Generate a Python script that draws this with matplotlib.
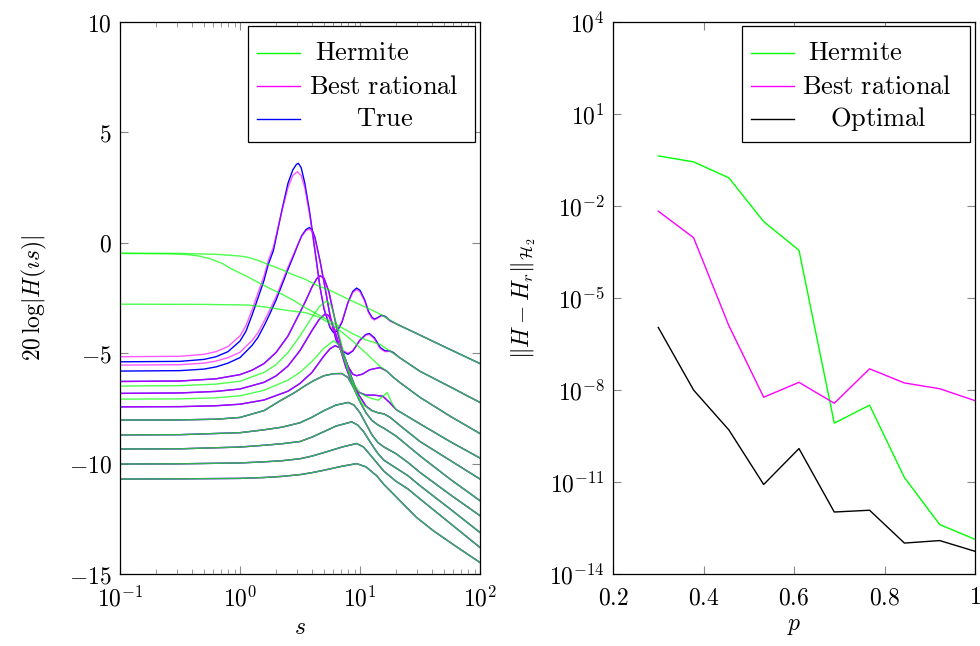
import numpy as np
import matplotlib
matplotlib.use("Agg")
import matplotlib.pyplot as plt
from matplotlib.patches import Rectangle
from matplotlib.lines import Line2D

plt.rcParams['mathtext.fontset'] = 'cm'
plt.rcParams['font.family'] = 'serif'
plt.rcParams['font.serif'] = ['DejaVu Serif']
plt.rcParams['font.size'] = 17

GREEN = (0, 1, 0)
MAGENTA = (1, 0, 1)
BLUE = (0, 0, 1)

# ---------- left panel: 20 log|H(is)| against log10(s) ----------
# true responses, one per p
t1_lg = [-1, -0.5, -0.3, -0.2, -0.1, 0.0, 0.05, 0.1, 0.15, 0.2, 0.236, 0.278, 0.3, 0.35, 0.4, 0.44, 0.47,
         0.486, 0.51, 0.54, 0.583, 0.625, 0.667, 0.7, 0.75, 0.778, 0.81, 0.85, 0.9, 0.94, 0.972, 1.0, 1.04,
         1.07, 1.1, 1.12, 1.15, 1.18, 1.21, 1.25, 1.306, 1.5, 1.75, 2.0]
t1_db = [-5.39, -5.37, -5.28, -5.16, -4.93, -4.45, -4.0, -3.28, -2.5, -1.7, -0.97, -0.36, 0.2, 1.5, 2.7,
         3.3, 3.55, 3.6, 3.4, 2.7, 1.3, -0.36, -2.02, -3.0, -3.84, -4.06, -4.0, -3.6, -2.7, -2.2, -2.05,
         -2.15, -2.6, -3.1, -3.38, -3.46, -3.38, -3.28, -3.33, -3.52, -3.68, -4.18, -4.83, -5.47]
t2_lg = [-1, -0.5, -0.3, -0.2, -0.1, 0.0, 0.1, 0.15, 0.208, 0.25, 0.3, 0.35, 0.4, 0.444, 0.48, 0.514,
         0.55, 0.578, 0.6, 0.625, 0.667, 0.708, 0.75, 0.8, 0.85, 0.9, 0.94, 1.0, 1.05, 1.078, 1.12, 1.17,
         1.208, 1.25, 1.278, 1.33, 1.5, 1.75, 2.0]
t2_db = [-5.81, -5.79, -5.72, -5.62, -5.45, -5.2, -4.65, -4.28, -3.68, -3.2, -2.6, -1.9, -1.2, -0.62,
         -0.12, 0.32, 0.6, 0.69, 0.6, 0.24, -0.82, -2.02, -3.3, -4.4, -4.9, -5.05, -4.9, -4.4, -4.15,
         -4.11, -4.3, -4.75, -4.89, -4.9, -4.97, -5.2, -5.82, -6.52, -7.23]
t3_lg = [-1, -0.5, -0.2, 0.0, 0.1, 0.2, 0.3, 0.4, 0.5, 0.55, 0.6, 0.64, 0.667, 0.7, 0.74, 0.78, 0.82,
         0.86, 0.9, 0.94, 0.972, 1.02, 1.08, 1.167, 1.22, 1.28, 1.333, 1.5, 1.75, 2.0]
t3_db = [-6.28, -6.26, -6.16, -5.97, -5.77, -5.47, -4.97, -4.22, -3.15, -2.6, -2.0, -1.62, -1.49, -1.6,
         -2.2, -3.2, -4.2, -5.0, -5.6, -5.95, -6.02, -5.95, -5.75, -5.65, -5.8, -6.1, -6.33, -7.0, -7.85,
         -8.64]
t4_lg = [-1, -0.5, -0.2, 0.0, 0.2, 0.3, 0.4, 0.5, 0.6, 0.66, 0.708, 0.74, 0.78, 0.83, 0.88, 0.93, 0.98,
         1.05, 1.12, 1.19, 1.25, 1.3, 1.5, 1.75, 2.0]
t4_db = [-6.82, -6.80, -6.73, -6.62, -6.32, -6.03, -5.58, -4.88, -3.97, -3.47, -3.23, -3.3, -3.8, -4.7,
         -5.6, -6.3, -6.75, -6.9, -6.9, -6.95, -7.25, -7.55, -8.2, -9.0, -9.75]
t5_lg = [-1, -0.5, -0.2, 0.0, 0.2, 0.4, 0.5, 0.6, 0.7, 0.75, 0.792, 0.83, 0.88, 0.93, 0.98, 1.05, 1.1,
         1.15, 1.2, 1.25, 1.35, 1.5, 1.75, 2.0]
t5_db = [-7.43, -7.42, -7.38, -7.31, -7.12, -6.72, -6.37, -5.87, -5.12, -4.8, -4.66, -4.75, -5.3, -6.1,
         -6.8, -7.4, -7.6, -7.7, -7.75, -7.9, -8.35, -9.0, -9.85, -10.70]
t6_lg = [-1, -0.5, -0.2, 0.0, 0.2, 0.333, 0.45, 0.55, 0.611, 0.7, 0.78, 0.847, 0.9, 0.95, 1.0, 1.05,
         1.1, 1.15, 1.2, 1.3, 1.4, 1.5, 1.75, 2.0]
t6_db = [-8.03, -8.02, -7.99, -7.91, -7.6, -7.16, -6.8, -6.45, -6.25, -6.02, -5.93, -5.92, -6.1, -6.6,
         -7.2, -7.7, -8.05, -8.25, -8.4, -8.75, -9.2, -9.65, -10.7, -11.68]
t7_lg = [-1, -0.5, 0.0, 0.2, 0.35, 0.5, 0.6, 0.7, 0.8, 0.903, 0.95, 1.0, 1.05, 1.1, 1.15, 1.2, 1.3, 1.4,
         1.5, 1.75, 2.0]
t7_db = [-8.70, -8.69, -8.6, -8.47, -8.35, -8.15, -7.9, -7.6, -7.35, -7.23, -7.35, -7.7, -8.2, -8.7,
         -9.05, -9.25, -9.55, -9.95, -10.4, -11.4, -12.36]
t8_lg = [-1, -0.5, 0.0, 0.2, 0.35, 0.5, 0.6, 0.7, 0.8, 0.931, 0.98, 1.03, 1.1, 1.15, 1.2, 1.3, 1.4, 1.5,
         1.75, 2.0]
t8_db = [-9.34, -9.33, -9.25, -9.17, -9.1, -9.0, -8.8, -8.55, -8.3, -8.11, -8.25, -8.55, -9.15, -9.55,
         -9.85, -10.2, -10.55, -11.0, -12.05, -13.12]
t9_lg = [-1, -0.5, 0.0, 0.2, 0.35, 0.5, 0.6, 0.7, 0.85, 0.972, 1.03, 1.1, 1.2, 1.3, 1.4, 1.5, 1.75, 2.0]
t9_db = [-10.02, -10.01, -9.97, -9.92, -9.87, -9.78, -9.66, -9.5, -9.25, -9.09, -9.25, -9.7, -10.35,
         -10.8, -11.15, -11.6, -12.7, -13.8]
t10_lg = [-1, -0.5, 0.0, 0.2, 0.35, 0.5, 0.6, 0.7, 0.85, 0.972, 1.05, 1.139, 1.2, 1.306, 1.4, 1.472,
          1.611, 1.8, 2.0]
t10_db = [-10.70, -10.69, -10.67, -10.63, -10.58, -10.5, -10.41, -10.3, -10.12, -10.0, -10.15, -10.55,
          -10.95, -11.53, -12.05, -12.44, -13.04, -13.75, -14.48]

# best rational approximations that can be told apart from the true curve
br1_lg = [-1, -0.5, -0.3, -0.2, -0.1, 0.0, 0.05, 0.1, 0.15, 0.2, 0.236, 0.278, 0.3, 0.35, 0.4, 0.44,
          0.478, 0.51, 0.54, 0.583, 0.625, 0.667, 0.7, 0.75, 0.778, 0.81, 0.85, 0.9, 0.94, 0.972, 1.0,
          1.04, 1.07, 1.1, 1.12, 1.15, 1.18, 1.21, 1.25, 1.306, 1.5, 1.75, 2.0]
br1_db = [-5.16, -5.14, -5.05, -4.93, -4.7, -4.22, -3.75, -3.05, -2.27, -1.5, -0.8, -0.2, 0.3, 1.45,
          2.5, 3.05, 3.22, 3.05, 2.5, 1.2, -0.4, -2.0, -2.95, -3.78, -3.98, -3.92, -3.55, -2.7, -2.25,
          -2.12, -2.22, -2.65, -3.15, -3.42, -3.5, -3.4, -3.3, -3.36, -3.54, -3.68, -4.18, -4.83, -5.47]
br2_lg = [-1, -0.5, -0.3, -0.2, -0.1, 0.0, 0.1, 0.15, 0.208, 0.25, 0.3, 0.35, 0.4, 0.444, 0.48, 0.514,
          0.55, 0.578, 0.6, 0.625, 0.667, 0.708, 0.75, 0.8, 0.85, 0.9, 0.94, 1.0, 1.05, 1.078, 1.12, 1.17,
          1.208, 1.25, 1.278, 1.33, 1.5, 1.75, 2.0]
br2_db = [-5.54, -5.52, -5.45, -5.36, -5.2, -4.96, -4.43, -4.07, -3.48, -3.02, -2.45, -1.78, -1.1,
          -0.55, -0.1, 0.3, 0.55, 0.62, 0.53, 0.18, -0.85, -2.0, -3.25, -4.35, -4.85, -5.0, -4.88, -4.42,
          -4.18, -4.14, -4.35, -4.8, -4.93, -4.92, -5.0, -5.2, -5.82, -6.52, -7.23]

# Hermite approximations that can be told apart from the true curve
ha_lg = [-1, -0.6, -0.45, -0.347, -0.25, -0.15, -0.069, 0.05, 0.153, 0.25, 0.347, 0.45, 0.542, 0.65,
         0.75, 0.85, 0.95, 1.05, 1.167, 1.25, 1.33, 1.5, 1.75, 2.0]
ha_db = [-0.48, -0.5, -0.53, -0.59, -0.72, -0.93, -1.19, -1.5, -1.8, -2.07, -2.32, -2.62, -2.93, -3.25,
         -3.55, -3.85, -4.15, -4.4, -4.6, -4.9, -5.2, -5.82, -6.52, -7.23]
hb_lg = [-1, -0.5, -0.2, 0.0, 0.069, 0.15, 0.264, 0.35, 0.43, 0.542, 0.65, 0.75, 0.9, 1.0, 1.1, 1.167,
         1.25, 1.306, 1.5, 1.75, 2.0]
hb_db = [-0.47, -0.48, -0.52, -0.6, -0.66, -0.8, -1.04, -1.22, -1.42, -1.65, -1.95, -2.15, -2.55, -2.8,
         -3.05, -3.23, -3.5, -3.68, -4.18, -4.83, -5.47]
hc_lg = [-1, -0.3, 0.069, 0.2, 0.319, 0.42, 0.542, 0.65, 0.75, 0.85, 0.95, 1.05, 1.167, 1.22, 1.28,
         1.333, 1.5, 1.75, 2.0]
hc_db = [-2.78, -2.79, -2.82, -2.9, -3.0, -3.08, -3.16, -3.35, -3.65, -4.05, -4.5, -5.0, -5.6, -5.8,
         -6.1, -6.33, -7.0, -7.85, -8.64]
hd_lg = [-1, -0.5, -0.2, 0.0, 0.2, 0.3, 0.4, 0.5, 0.6, 0.66, 0.722, 0.76, 0.8, 0.85, 0.9, 0.95, 1.0,
         1.05, 1.1, 1.153, 1.19, 1.227, 1.26, 1.3, 1.5, 1.75, 2.0]
hd_db = [-6.49, -6.47, -6.4, -6.27, -5.87, -5.52, -4.97, -4.22, -3.37, -2.9, -2.63, -2.85, -3.6, -4.7,
         -5.7, -6.4, -6.8, -6.95, -7.05, -7.13, -6.95, -6.78, -7.2, -7.55, -8.2, -9.0, -9.75]
he_lg = [-1, -0.5, -0.2, 0.0, 0.2, 0.4, 0.5, 0.6, 0.7, 0.778, 0.82, 0.87, 0.92, 0.97, 1.02, 1.08, 1.15,
         1.2, 1.25, 1.35, 1.5, 1.75, 2.0]
he_db = [-7.08, -7.07, -7.02, -6.93, -6.68, -6.22, -5.87, -5.37, -4.77, -4.44, -4.6, -5.3, -6.1, -6.8,
         -7.3, -7.55, -7.7, -7.75, -7.9, -8.35, -9.0, -9.85, -10.70]

# ---------- right panel: H2 errors ----------
p_vals = [0.3, 0.378, 0.456, 0.533, 0.611, 0.689, 0.767, 0.844, 0.922, 1.0]
err_hermite = [4.3e-1, 2.75e-1, 8.3e-2, 3.1e-3, 3.6e-4, 8.3e-10, 3.2e-9, 1.4e-11, 4.1e-13, 1.35e-13]
err_best = [6.8e-3, 9.3e-4, 1.26e-6, 5.8e-9, 1.78e-8, 3.7e-9, 4.9e-8, 1.7e-8, 1.1e-8, 4.5e-9]
err_optimal = [1.1e-6, 1.0e-8, 5.0e-10, 8.3e-12, 1.23e-10, 1.05e-12, 1.2e-12, 1.02e-13, 1.23e-13, 5.5e-14]

true_curves = [(t1_lg, t1_db), (t2_lg, t2_db), (t3_lg, t3_db), (t4_lg, t4_db), (t5_lg, t5_db),
               (t6_lg, t6_db), (t7_lg, t7_db), (t8_lg, t8_db), (t9_lg, t9_db), (t10_lg, t10_db)]
best_curves = [(br1_lg, br1_db), (br2_lg, br2_db)] + true_curves[2:]
herm_curves = [(hb_lg, hb_db), (ha_lg, ha_db), (hc_lg, hc_db), (hd_lg, hd_db), (he_lg, he_db)] + true_curves[5:]

fig = plt.figure(figsize=(9.8, 6.46), dpi=100)
ax1 = fig.add_axes([120 / 980, 1 - 574 / 646, 360 / 980, 552 / 646])
ax2 = fig.add_axes([613 / 980, 1 - 574 / 646, 362 / 980, 552 / 646])

lw = 1.0
for lg, db in true_curves:
    ax1.plot(10 ** np.array(lg), db, color=BLUE, lw=lw)
for lg, db in best_curves:
    ax1.plot(10 ** np.array(lg), db, color=MAGENTA, lw=lw, alpha=0.65)
for lg, db in herm_curves:
    ax1.plot(10 ** np.array(lg), db, color=GREEN, lw=lw, alpha=0.7)

ax1.set_xscale('log')
ax1.set_xlim(0.1, 100)
ax1.set_ylim(-15, 10)
ax1.set_yticks([-15, -10, -5, 0, 5, 10])
ax1.set_yticklabels([r'$-15$', r'$-10$', r'$-5$', r'$0$', r'$5$', r'$10$'])
ax1.set_xticks([0.1, 1, 10, 100])
ax1.set_xticklabels([r'$10^{-1}$', r'$10^{0}$', r'$10^{1}$', r'$10^{2}$'])
ax1.set_xlabel(r'$s$', labelpad=3)
ax1.set_ylabel(r'$20\,\log|H(\imath s)|$', labelpad=14)

ax2.semilogy(p_vals, err_hermite, color=GREEN, lw=lw)
ax2.semilogy(p_vals, err_best, color=MAGENTA, lw=lw)
ax2.semilogy(p_vals, err_optimal, color='black', lw=lw)
ax2.set_xlim(0.2, 1.0)
ax2.set_ylim(1e-14, 1e4)
ax2.set_xticks([0.2, 0.4, 0.6, 0.8, 1.0])
ax2.set_xticklabels([r'$0.2$', r'$0.4$', r'$0.6$', r'$0.8$', r'$1$'])
ax2.set_yticks([10.0 ** k for k in range(-14, 5, 3)])
ax2.set_yticklabels([r'$10^{%d}$' % k for k in range(-14, 5, 3)])
ax2.minorticks_off()
ax2.set_xlabel(r'$p$', labelpad=3)
ax2.set_ylabel(r'$\|H-H_r\|_{\mathcal{H}_2}$', labelpad=8)

for ax in (ax1, ax2):
    ax.tick_params(which='both', direction='in', top=True, right=True, color='#888888')
    ax.tick_params(which='major', length=6, width=0.8, labelsize=17)
    ax.tick_params(which='minor', length=3.5, width=0.6)
    ax.tick_params(axis='x', which='major', pad=9)
    ax.tick_params(axis='y', which='major', pad=6)
    for sp in ax.spines.values():
        sp.set_linewidth(0.9)


def legend_box(ax, x0, x1, y0, y1, entries):
    # pixel box converted to axes fraction
    bb = ax.get_position()
    W, H = 980, 646
    ax_x0, ax_y0 = bb.x0 * W, (1 - bb.y1) * H
    aw, ah = bb.width * W, bb.height * H
    fx = lambda px: (px - ax_x0) / aw
    fy = lambda py: 1 - (py - ax_y0) / ah
    ax.add_patch(Rectangle((fx(x0), fy(y1)), fx(x1) - fx(x0), fy(y0) - fy(y1), transform=ax.transAxes,
                           facecolor='white', edgecolor='black', lw=0.9, zorder=10))
    for (py, col, label, cx) in entries:
        ax.add_line(Line2D([fx(x0 + 9), fx(x0 + 52)], [fy(py), fy(py)], transform=ax.transAxes,
                           color=col, lw=lw, zorder=11))
        ax.text(fx(cx), fy(py), label, transform=ax.transAxes, ha='center', va='center',
                fontsize=19, zorder=11)


legend_box(ax1, 248, 475, 26, 142, [(53, GREEN, r'$\mathrm{Hermite}$', 362),
                                    (86, MAGENTA, r'$\mathrm{Best\ rational}$', 384),
                                    (119, BLUE, r'$\mathrm{True}$', 385)])
legend_box(ax2, 742, 970, 26, 142, [(53, GREEN, r'$\mathrm{Hermite}$', 855),
                                    (86, MAGENTA, r'$\mathrm{Best\ rational}$', 877),
                                    (119, 'black', r'$\mathrm{Optimal}$', 878)])

fig.savefig('out.png', dpi=100)
